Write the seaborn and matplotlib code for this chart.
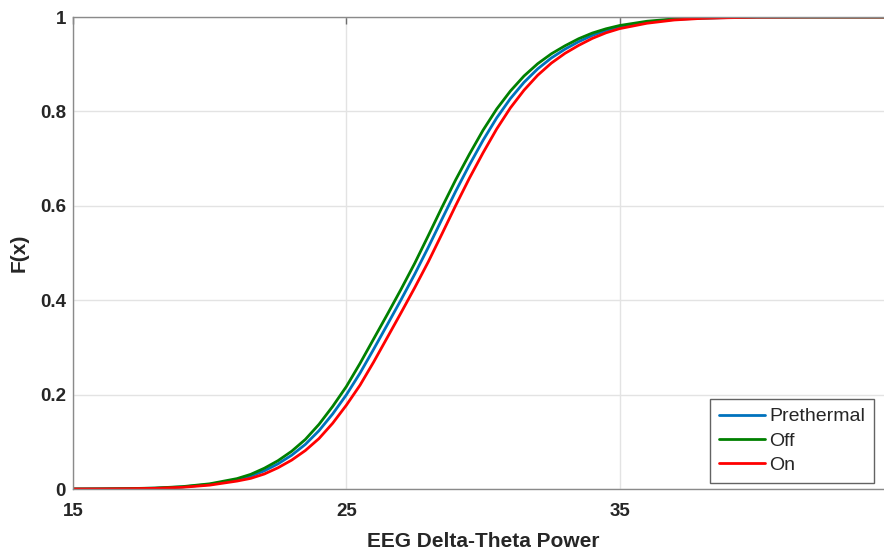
import numpy as np
import pandas as pd
import matplotlib
matplotlib.use("Agg")
import matplotlib.pyplot as plt
import seaborn as sns

# Empirical CDF values of EEG delta-theta power for each condition
power = [15, 16, 17, 18, 19, 20, 21, 21.5, 22, 22.5, 23, 23.5, 24, 24.5, 25,
         25.5, 26, 26.5, 27, 27.5, 28, 28.5, 29, 29.5, 30, 30.5, 31, 31.5, 32,
         32.5, 33, 33.5, 34, 34.5, 35, 36, 37, 38, 39, 40, 42, 45]

cdf_prethermal = [0.0, 0.0002, 0.0007, 0.0017, 0.0044, 0.0097, 0.0197, 0.0272,
                  0.0385, 0.0533, 0.0716, 0.0945, 0.1236, 0.159, 0.1994, 0.2454,
                  0.2962, 0.3482, 0.4007, 0.4549, 0.5122, 0.5718, 0.6306, 0.6863,
                  0.7386, 0.7861, 0.827, 0.8616, 0.8901, 0.9132, 0.9319, 0.9477,
                  0.961, 0.9712, 0.9791, 0.9891, 0.995, 0.9976, 0.9988, 0.9998,
                  1.0, 1.0]

cdf_off = [0.0, 0.0003, 0.0008, 0.002, 0.005, 0.011, 0.022, 0.031, 0.044, 0.060,
           0.080, 0.105, 0.137, 0.175, 0.217, 0.266, 0.318, 0.370, 0.423, 0.478,
           0.537, 0.597, 0.655, 0.709, 0.760, 0.805, 0.843, 0.875, 0.901, 0.922,
           0.939, 0.954, 0.966, 0.975, 0.982, 0.991, 0.996, 0.998, 0.999, 1.0,
           1.0, 1.0]

cdf_on = [0.0, 0.00016, 0.00057, 0.0014, 0.0036, 0.0082, 0.0168, 0.0225, 0.0318,
          0.045, 0.0612, 0.0815, 0.1069, 0.1393, 0.1775, 0.2199, 0.2691, 0.3211,
          0.3732, 0.4263, 0.4815, 0.5406, 0.6005, 0.6582, 0.7121, 0.7627, 0.8073,
          0.8449, 0.8766, 0.9023, 0.923, 0.9399, 0.9547, 0.9665, 0.9754, 0.9868,
          0.9937, 0.9971, 0.9985, 0.9995, 1.0, 1.0]

conditions = ["Prethermal", "Off", "On"]
colors = {"Prethermal": "#0072BD", "Off": "#008000", "On": "#FF0000"}

x_ticks = [15, 25, 35]
y_ticks = [0, 0.2, 0.4, 0.6, 0.8, 1]
y_tick_labels = ["0", "0.2", "0.4", "0.6", "0.8", "1"]

df = pd.concat([
    pd.DataFrame({"power": power, "F": vals, "condition": name})
    for name, vals in zip(conditions, [cdf_prethermal, cdf_off, cdf_on])
], ignore_index=True)

sns.set_style("white")
plt.rcParams["font.family"] = ["Liberation Sans", "DejaVu Sans"]

W, H = 884, 553
fig = plt.figure(figsize=(W / 100, H / 100), dpi=100)
ax = fig.add_axes([73 / W, (H - 489) / H, 820 / W, 472 / H])

sns.lineplot(data=df, x="power", y="F", hue="condition", hue_order=conditions,
             palette=colors, linewidth=2.0, ax=ax, legend=True, sort=False)

ax.set_xlim(15, 45)
ax.set_ylim(0, 1)
ax.set_xticks(x_ticks)
ax.set_yticks(y_ticks)
ax.set_yticklabels(y_tick_labels)

ax.grid(True, color="#e3e3e3", linewidth=1.0)
ax.set_axisbelow(True)

for side in ["left", "bottom", "top", "right"]:
    ax.spines[side].set_visible(True)
    ax.spines[side].set_color("#8a8a8a")
    ax.spines[side].set_linewidth(1.0)

ax.tick_params(axis="both", direction="in", length=5, width=1, color="#6e6e6e",
               top=True, right=True, labelsize=13.5, labelcolor="#262626")
ax.tick_params(axis="x", pad=10)
ax.tick_params(axis="y", pad=5)
for lbl in ax.get_xticklabels() + ax.get_yticklabels():
    lbl.set_fontweight("bold")

ax.set_xlabel("EEG Delta-Theta Power", fontsize=15, fontweight="bold",
              color="#262626", labelpad=9)
ax.set_ylabel("F(x)", fontsize=15, fontweight="bold", color="#262626",
              labelpad=8)

handles, labels = ax.get_legend_handles_labels()
leg = ax.legend(handles, labels, loc="lower right",
                bbox_to_anchor=((874 - 73) / 820, (489 - 483) / 472),
                borderaxespad=0, fontsize=14, frameon=True, fancybox=False,
                edgecolor="#3c3c3c", handlelength=2.4, handletextpad=0.2,
                labelspacing=0.35, borderpad=0.45)
leg.get_frame().set_linewidth(1.0)
for line in leg.get_lines():
    line.set_linewidth(2.0)

fig.savefig("out.png", dpi=100)
